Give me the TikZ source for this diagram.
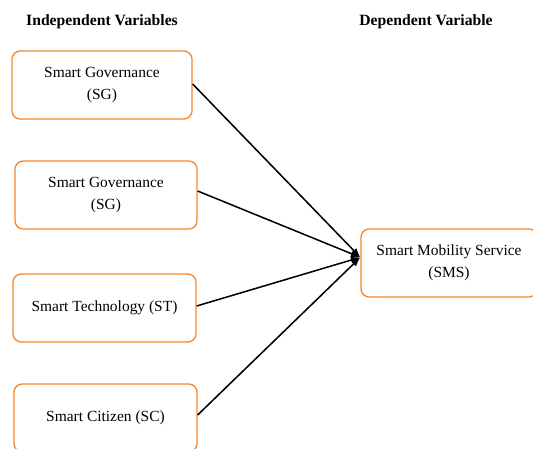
\documentclass[tikz,border=0pt]{standalone}
\usepackage{fontspec}
\setmainfont{Liberation Serif}
\usetikzlibrary{arrows.meta}
\definecolor{boxorange}{RGB}{247,134,42}
\tikzset{
  varbox/.style={draw=boxorange, line width=1.1pt, rounded corners=7pt, fill=white,
    align=center, font=\rmfamily\fontsize{13.2}{18.5}\selectfont, inner sep=2pt},
  header/.style={font=\rmfamily\bfseries\fontsize{13.4}{16}\selectfont},
  link/.style={line width=1.3pt, -{Latex[length=8pt,width=6pt]}}
}
\begin{document}
\begin{tikzpicture}[x=0.03cm, y=-0.03cm]
\useasboundingbox[fill=white] (0,0) rectangle (533,448);
\node[header] (indep) at (102,22) {Independent Variables};
\node[header] (dep) at (426,22) {Dependent Variable};
\node[varbox, minimum width=180*0.03cm, minimum height=68*0.03cm] (sg1) at (102,85) {Smart Governance\\(SG)};
\node[varbox, minimum width=182*0.03cm, minimum height=68*0.03cm] (sg2) at (106,195) {Smart Governance\\(SG)};
\node[varbox, minimum width=183*0.03cm, minimum height=68*0.03cm] (st) at (104.5,308) {Smart Technology (ST)};
\node[varbox, minimum width=183*0.03cm, minimum height=68*0.03cm] (sc) at (105.5,418) {Smart Citizen (SC)};
\node[varbox, minimum width=176*0.03cm, minimum height=68*0.03cm] (sms) at (449,263) {Smart Mobility Service\\(SMS)};
\coordinate (tip) at ([yshift=0.17cm]sms.west);
\draw[link] ([yshift=0.03cm]sg1.east) -- (tip);
\draw[link] ([yshift=0.12cm]sg2.east) -- (tip);
\draw[link] ([yshift=0.06cm]st.east) -- (tip);
\draw[link] ([yshift=0.09cm]sc.east) -- (tip);
\end{tikzpicture}
\end{document}
